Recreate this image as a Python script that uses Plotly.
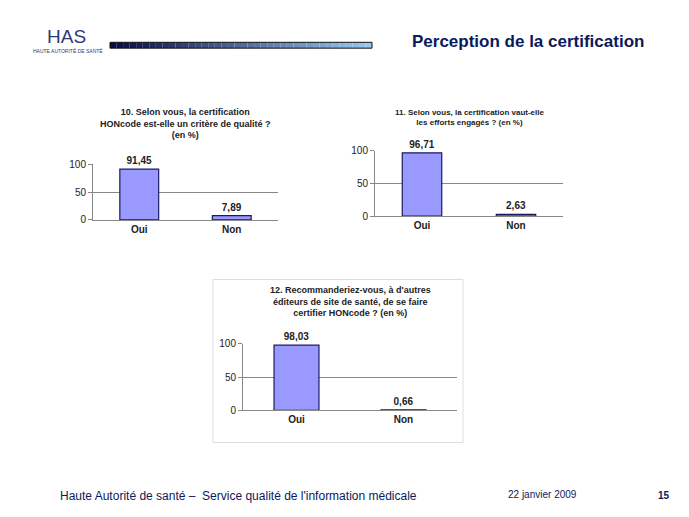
import plotly.graph_objects as go

W, H = 689, 517
OFF = 8  # browser body margin
categories = ["Oui", "Non"]
q10_values = [91.45, 7.89]
q11_values = [96.71, 2.63]
q12_values = [98.03, 0.66]
q10_title = "<b>10. Selon vous, la certification<br>HONcode est-elle un critère de qualité ?<br>(en %)</b>"
q11_title = "<b>11. Selon vous, la certification vaut-elle<br>les efforts engagés ? (en %)</b>"
q12_title = "<b>12. Recommanderiez-vous, à d'autres<br>éditeurs de site de santé, de se faire<br>certifier HONcode ? (en %)</b>"

FW, FH = W - 2 * OFF, H - 2 * OFF


def px_x(x):
    return (x - OFF) / FW


def px_y(y):
    return 1 - (y - OFF) / FH


# chart boxes in pixels: x0, x1, y_zero, y_hundred, title size, title top
panels = [
    (q10_values, q10_title, 93, 278, 219, 162, 9, 101),
    (q11_values, q11_title, 375, 563, 215, 148, 8, 102),
    (q12_values, q12_title, 243, 457, 414, 346, 9, 284),
]

fig = go.Figure()
shapes, annotations = [], []
for i, (vals, title, x0, x1, y0, y100, tsize, ty) in enumerate(panels, start=1):
    xa = "x" if i == 1 else f"x{i}"
    ya = "y" if i == 1 else f"y{i}"
    fig.add_trace(go.Bar(
        x=categories, y=vals, xaxis=xa, yaxis=ya, width=0.42,
        marker=dict(color="#9999FF", line=dict(color="#1a1a5e", width=1.2)),
        text=[f"<b>{v:.2f}</b>".replace(".", ",") for v in vals],
        textposition="outside", cliponaxis=False,
        textfont=dict(size=10, color="#222", family="Arial"),
    ))
    key = "" if i == 1 else str(i)
    fig.layout["xaxis" + key] = dict(
        domain=[px_x(x0), px_x(x1)], anchor=ya, showline=True, linecolor="#888",
        ticks="", showgrid=False, tickprefix="<b>", ticksuffix="</b>",
        tickfont=dict(size=10, color="#222", family="Arial"),
    )
    fig.layout["yaxis" + key] = dict(
        domain=[px_y(y0), px_y(y100)], anchor=xa, range=[0, 100],
        tickvals=[0, 50, 100], showline=True, linecolor="#888", ticks="outside",
        ticklen=4, tickcolor="#888", showgrid=True, gridcolor="#888",
        zeroline=False, tickprefix="<b>", ticksuffix="</b>",
        tickfont=dict(size=10, color="#222", family="Arial"),
    )
    annotations.append(dict(
        x=px_x((x0 + x1) / 2), y=px_y(ty), text=title, yanchor="top",
        font=dict(size=tsize, color="#222", family="Arial"),
    ))

# box around chart 12
shapes.append(dict(type="rect", xref="paper", yref="paper",
                   x0=px_x(213), x1=px_x(463), y0=px_y(447), y1=px_y(280),
                   line=dict(color="#ddd", width=1)))

# gradient header bar
n = 40
c0, c1 = (10, 10, 70), (150, 200, 240)
for k in range(n):
    t = k / (n - 1)
    col = "rgb({},{},{})".format(*[int(a + (b - a) * t) for a, b in zip(c0, c1)])
    shapes.append(dict(type="rect", xref="paper", yref="paper",
                       x0=px_x(110 + 262 * k / n), x1=px_x(110 + 262 * (k + 1) / n),
                       y0=px_y(43), y1=px_y(37), line=dict(width=0), fillcolor=col))
shapes.append(dict(type="rect", xref="paper", yref="paper", x0=px_x(110), x1=px_x(372),
                   y0=px_y(43), y1=px_y(37), line=dict(color="#111", width=1)))

annotations += [
    dict(x=px_x(646), y=px_y(36), text="<b>Perception de la certification</b>", xanchor="right",
         font=dict(size=17, color="#0a1a5c", family="Arial")),
    dict(x=px_x(67), y=px_y(31), text="HAS", font=dict(size=19, color="#2a3a7a", family="Arial")),
    dict(x=px_x(68), y=px_y(46), text="HAUTE AUTORITÉ DE SANTÉ",
         font=dict(size=5, color="#2a3a7a", family="Arial")),
    dict(x=px_x(58), y=px_y(502), text="Haute Autorité de santé –  Service qualité de l'information médicale",
         xanchor="left", font=dict(size=12, color="#0a1a5c", family="Arial")),
    dict(x=px_x(542), y=px_y(500), text="22 janvier 2009",
         font=dict(size=10, color="#0a1a5c", family="Arial")),
    dict(x=px_x(664), y=px_y(501), text="<b>15</b>",
         font=dict(size=10, color="#0a1a5c", family="Arial")),
]
for a in annotations:
    a.setdefault("xref", "paper")
    a.setdefault("yref", "paper")
    a.setdefault("showarrow", False)
    a.setdefault("xanchor", "center")
    a.setdefault("yanchor", "middle")

fig.update_layout(
    width=FW, height=FH, margin=dict(l=0, r=0, t=0, b=0),
    paper_bgcolor="white", plot_bgcolor="white", showlegend=False,
    shapes=shapes, annotations=annotations,
)
fig.write_html("out.html")
